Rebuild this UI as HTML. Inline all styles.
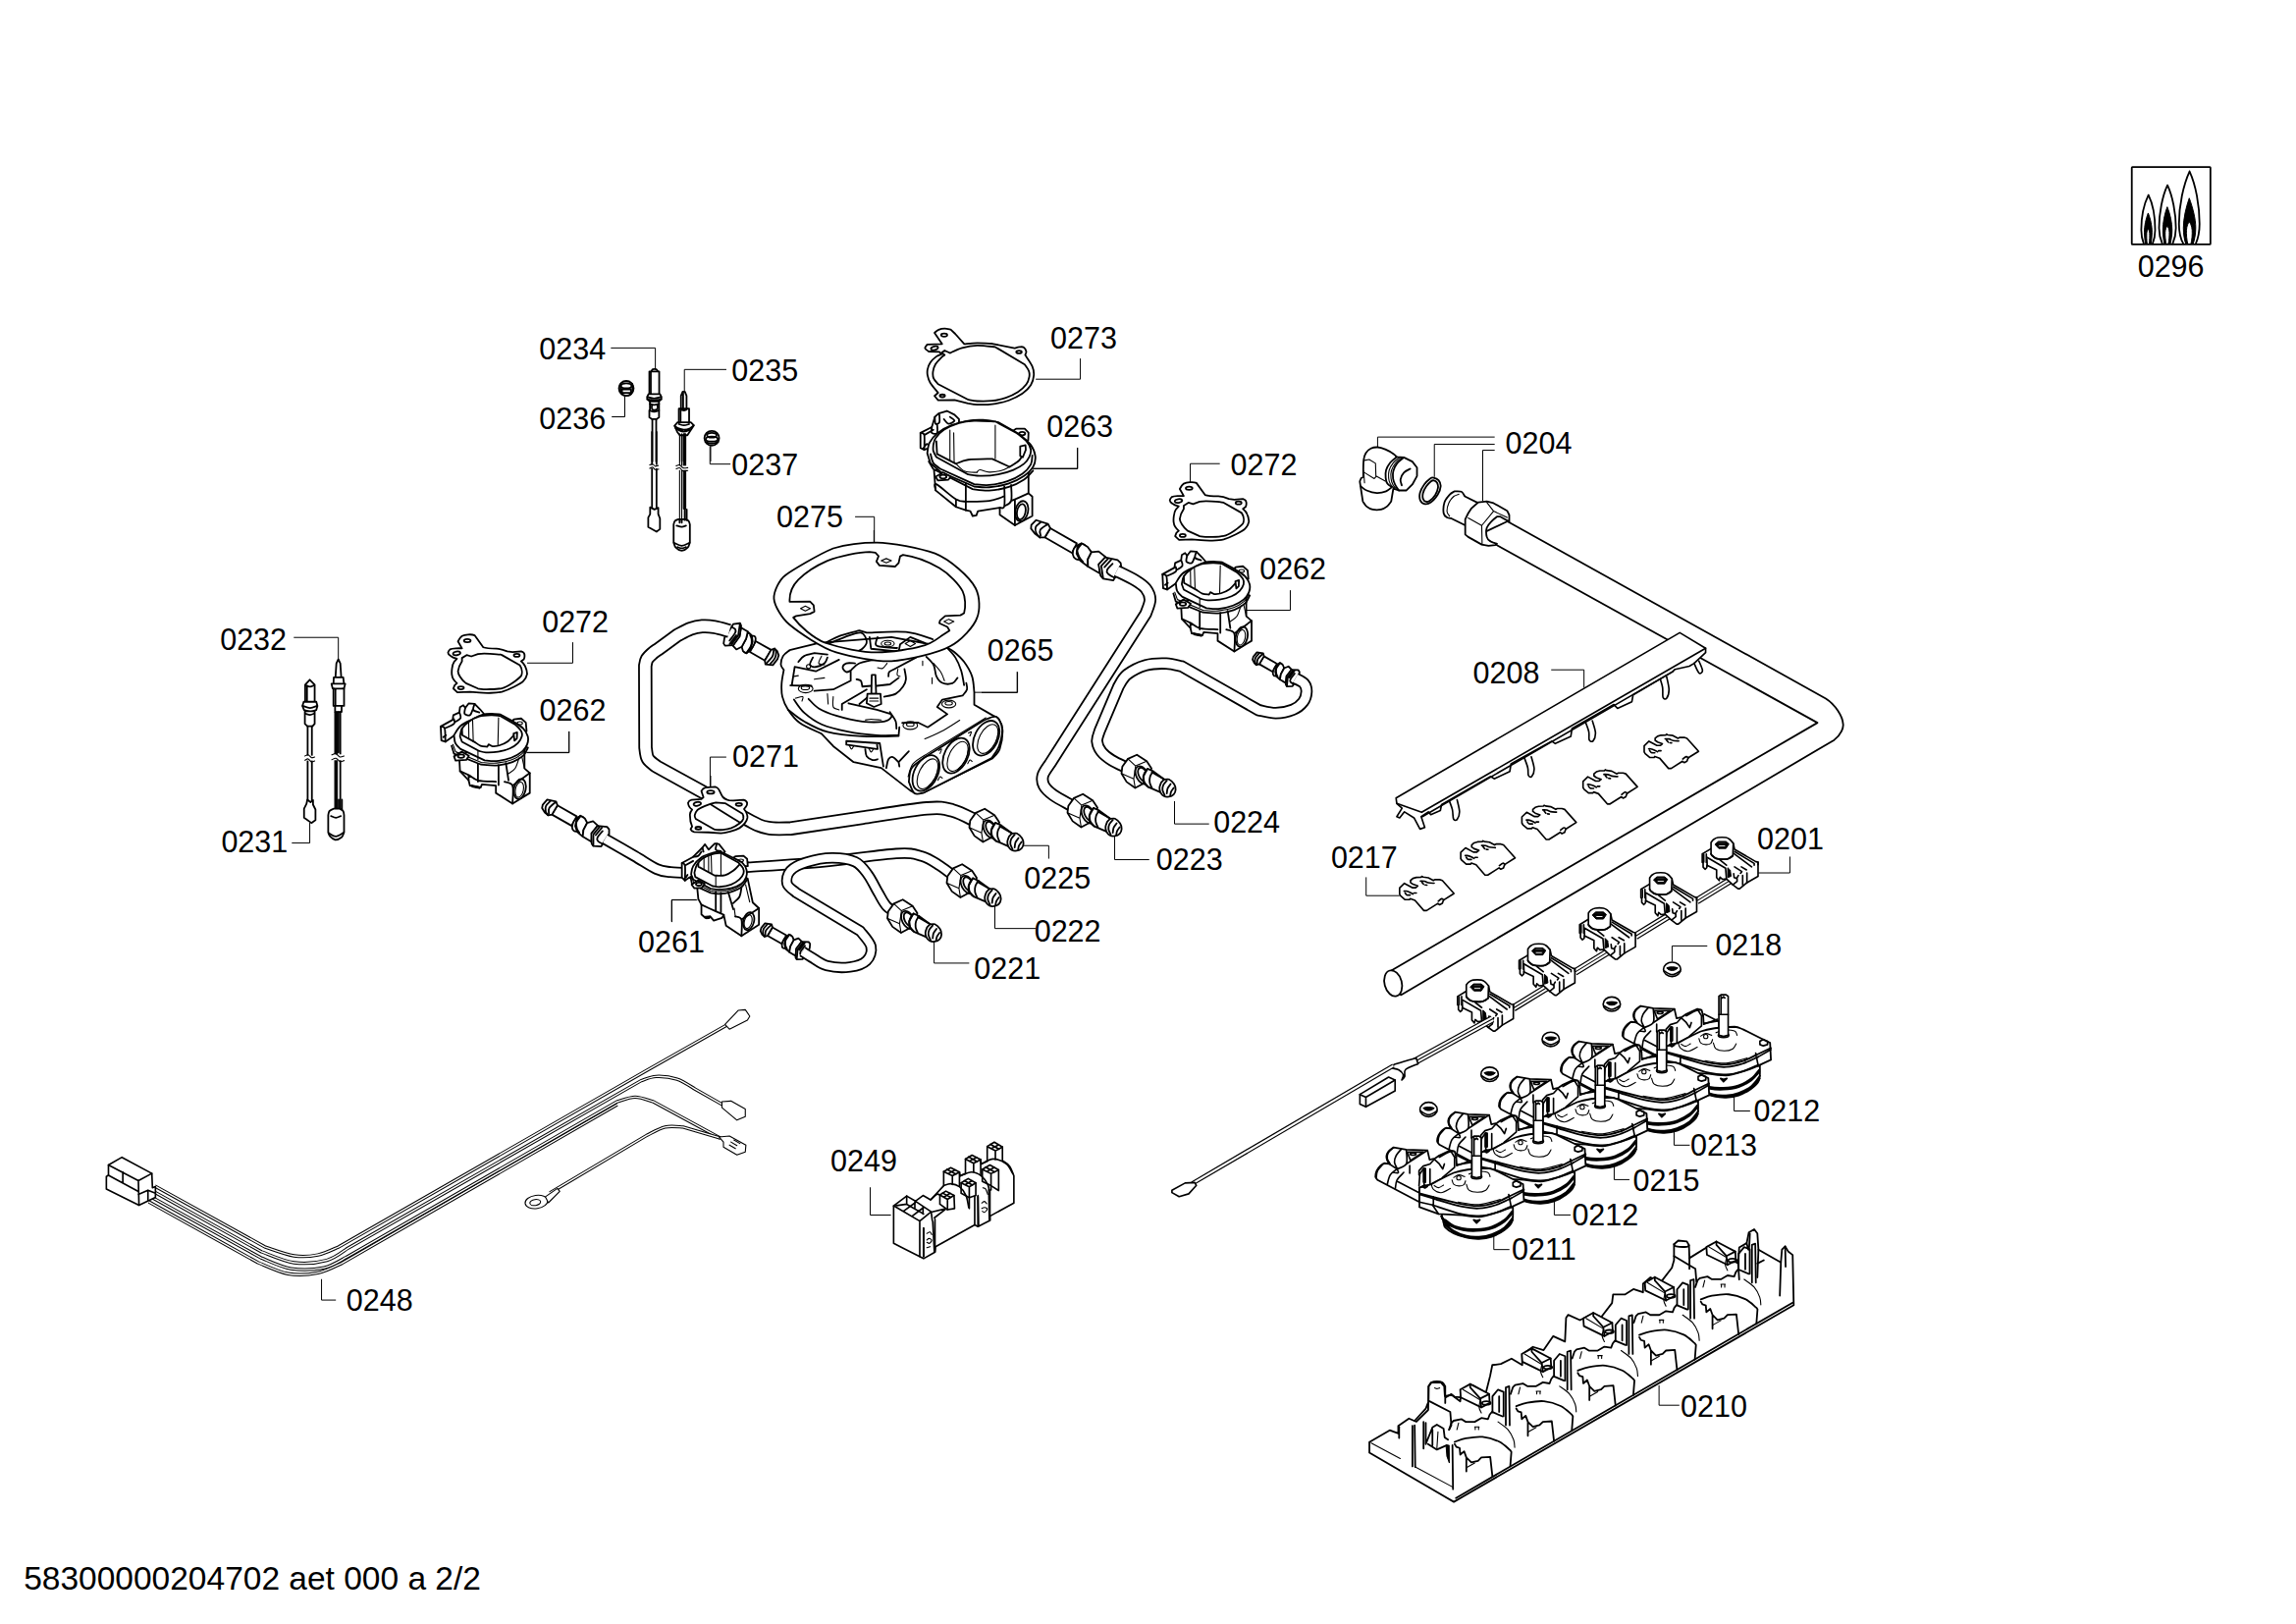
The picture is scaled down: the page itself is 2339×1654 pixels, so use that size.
<!DOCTYPE html>
<html><head><meta charset="utf-8"><title>58300000204702 aet 000 a 2/2</title>
<style>
html,body{margin:0;padding:0;background:#fff}
svg{display:block}
.p{fill:none;stroke:#000;stroke-width:1.8;vector-effect:non-scaling-stroke;stroke-linejoin:round;stroke-linecap:round}
.pw{fill:#fff;stroke:#000;stroke-width:1.8;vector-effect:non-scaling-stroke;stroke-linejoin:round;stroke-linecap:round}
.n{fill:none;stroke:#000;stroke-width:1.1;vector-effect:non-scaling-stroke;stroke-linejoin:round;stroke-linecap:round}
.nw{fill:#fff;stroke:#000;stroke-width:1.1;vector-effect:non-scaling-stroke;stroke-linejoin:round;stroke-linecap:round}
.m{fill:none;stroke:#000;stroke-width:1.65;vector-effect:non-scaling-stroke;stroke-linejoin:round;stroke-linecap:round}
.mw{fill:#fff;stroke:#000;stroke-width:1.65;vector-effect:non-scaling-stroke;stroke-linejoin:round;stroke-linecap:round}
.w{fill:#fff;stroke:none}
.pk{fill:#000;stroke:#000;stroke-width:1;vector-effect:non-scaling-stroke}
.l{fill:none;stroke:#000;stroke-width:1;vector-effect:non-scaling-stroke}
.tb{fill:none;stroke:#000;stroke-linecap:butt;stroke-linejoin:round;vector-effect:non-scaling-stroke}
.tw{fill:none;stroke:#fff;stroke-linecap:butt;stroke-linejoin:round;vector-effect:non-scaling-stroke}
text{font-family:"Liberation Sans",sans-serif;font-size:30.5px;fill:#000}
</style></head><body>
<svg width="2339" height="1654" viewBox="0 0 2339 1654">
<rect width="2339" height="1654" fill="#fff"/>
<defs>

<g id="fit" transform="scale(0.0871)">
<path class="pw" d="M-145,-55L-80,-145L25,-192L140,-118L195,-35L165,90L80,155L5,195L-95,125L-155,25Z"/>
<path class="n" d="M-80,-145L10,-62L-12,90L5,195M-150,30L-12,90M10,-62L140,-118"/>
<g transform="rotate(-27 85 45)"><ellipse class="p" cx="85" cy="45" rx="68" ry="112"/><ellipse class="p" cx="98" cy="45" rx="50" ry="88"/></g>
<path class="pw" d="M150,-30L215,0L345,95L300,245L160,185L110,130L100,60Z"/>
<path class="p" d="M150,-30C143.3,-20 118.3,8.3 110,30C101.7,51.7 96.7,78.3 100,100C103.3,121.7 120,145.8 130,160C140,174.2 155,180.8 160,185M215,0C209.2,10 186.7,38.3 180,60C173.3,81.7 171.7,107.5 175,130C178.3,152.5 195.8,184.2 200,195M200,10L345,95"/>
<path class="pw" d="M340,100C350,99.2 380,86.7 400,95C420,103.3 447,130 460,150C473,170 478.8,195 478,215C477.2,235 468,256.2 455,270C442,283.8 419.2,294.7 400,298C380.8,301.3 356.7,298.8 340,290C323.3,281.2 308.3,261.7 300,245C291.7,228.3 288.3,209.2 290,190C291.7,170.8 306.7,140 310,130Z"/>
<path class="p" d="M375,110C368.3,118.3 343.3,141.7 335,160C326.7,178.3 322.5,200 325,220C327.5,240 345.8,270 350,280M420,150C414.2,158.3 392.5,181.7 385,200C377.5,218.3 376.7,250 375,260M455,195C450,202.5 431.7,225 425,240C418.3,255 416.7,277.5 415,285"/>
</g>
</defs>
<defs>
<g id="g272" transform="scale(0.13547)">
<path class="pw" fill-rule="evenodd" d="M270,245C280,225 290,212 300,205C320,195 370,188 395,200L460,290C480,298 530,300 560,300C590,302 620,312 640,320L680,325L745,320C760,325 770,335 770,345C772,360 768,375 765,380L745,395C765,410 785,430 790,490C785,520 770,535 760,545C740,565 650,610 600,625C560,635 470,635 430,630L360,625L265,628L235,600L245,575L262,560C240,540 226,520 225,500C220,480 225,420 240,400L262,375C240,370 220,360 215,355C200,345 195,335 195,330C198,318 204,310 210,305C225,298 280,296 300,298Z
M300,395C290,410 272,450 270,470C270,490 295,535 330,560L420,600C450,610 570,605 600,598C640,590 720,535 745,505C755,485 752,450 735,425L600,348C570,338 450,334 420,340L370,358L335,348L300,370Z"/>
<ellipse class="p" cx="340" cy="240" rx="25" ry="12"/>
<ellipse class="p" cx="260" cy="335" rx="28" ry="14" transform="rotate(-10 260 335)"/>
<ellipse class="p" cx="712" cy="350" rx="22" ry="11"/>
<ellipse class="p" cx="292" cy="595" rx="22" ry="11"/>
</g>
<g id="c262" transform="scale(0.13547)">
<path class="pw" d="M140,885L230,835L235,800L280,780L285,740L310,725L325,745L350,712L395,715L435,755L465,790L400,900L245,950L175,1000L145,990Z"/>
<path class="p" d="M140,885C145,887.5 164.2,880.8 170,900C175.8,919.2 174.2,983.3 175,1000M170,900C181.7,894.2 228.3,876.7 240,865C251.7,853.3 240,835.8 240,830M280,780C281.7,786.7 295,808.3 290,820C285,831.7 256.7,845 250,850M325,745C324.2,752.5 314.2,780.8 320,790C325.8,799.2 350,805 360,800C370,795 376.7,766.7 380,760M395,715C393.3,722.5 379.2,749.2 385,760C390.8,770.8 422.5,776.7 430,780M160,965L180,950"/>
<path class="pw" d="M280,1120L285,1220L350,1290L360,1330L440,1345L450,1320L555,1330L555,1385L680,1465L810,1385L810,1235L770,1200L770,1000L500,960Z"/>
<path class="p" d="M420,1170L420,1300M575,1175L575,1325M630,1160L650,1290M620,1300C630,1305 670,1302.5 680,1330C690,1357.5 680,1442.5 680,1465M680,1330L810,1235M285,1220C295.8,1225 327.5,1238.3 350,1250C372.5,1261.7 385.8,1281.7 420,1290C454.2,1298.3 532.5,1298.3 555,1300M350,1250L350,1290"/>
<path class="n" d="M730,1120C725,1133.3 713.3,1180 700,1200C686.7,1220 658.3,1233.3 650,1240M750,1110L770,1200"/>
<path class="pk" d="M370,1325L440,1340L435,1352L375,1340Z"/>
<ellipse class="p" cx="735" cy="1355" rx="44" ry="76" transform="rotate(12 735 1355)"/>
<ellipse class="n" cx="732" cy="1360" rx="30" ry="58" transform="rotate(12 732 1360)"/>
<path class="pw" d="M670,850L690,832L745,825L780,855L786,920L720,920Z"/>
<ellipse class="n" cx="735" cy="860" rx="20" ry="11"/>
<path class="pw" d="M240,950C248.3,938.3 266.7,900 290,880C313.3,860 353.3,843.7 380,830C406.7,816.3 426.7,804.7 450,798C473.3,791.3 496.7,790.5 520,790C543.3,789.5 578.3,794.2 590,795L690,850C701.7,858.3 742.5,881.7 760,900C777.5,918.3 790,940 795,960C800,980 797.5,1000.8 790,1020C782.5,1039.2 770,1058.3 750,1075C730,1091.7 701.7,1108.3 670,1120C638.3,1131.7 593.3,1141.7 560,1145C526.7,1148.3 485,1140.8 470,1140L290,1055C283.3,1047.5 258.3,1027.5 250,1010C241.7,992.5 241.7,960 240,950Z"/>
<path class="p" d="M222,1030L240,1090L440,1170C460,1171.3 520,1181 560,1178C600,1175 646.7,1164.2 680,1152C713.3,1139.8 740.7,1122.8 760,1105C779.3,1087.2 790,1055 796,1045"/>
<path class="n" d="M232,1020L252,1075L445,1155C464.2,1155.8 521.7,1163.3 560,1160C598.3,1156.7 643,1146.7 675,1135C707,1123.3 732.8,1106.7 752,1090C771.2,1073.3 783.7,1044.2 790,1035"/>
<path class="pw" d="M240,1110L298,1075L352,1105L332,1136L252,1142Z"/>
<ellipse class="p" cx="293" cy="1108" rx="24" ry="13"/>
<path class="pw" d="M285,960C287.5,950 289.2,918.3 300,900C310.8,881.7 328.3,865 350,850C371.7,835 401.7,818.3 430,810C458.3,801.7 494.2,800.8 520,800C545.8,799.2 574.2,804.2 585,805L700,870C707.5,878.3 736.7,905 745,920C753.3,935 754.2,945 750,960C745.8,975 735,995 720,1010C705,1025 685,1039.2 660,1050C635,1060.8 600,1070 570,1075C540,1080 503.3,1080.8 480,1080C456.7,1079.2 438.3,1071.7 430,1070L300,1000L285,960Z"/>
<path class="p" d="M300,900L302,950L400,1005C406.7,1009.2 425,1024.5 440,1030C455,1035.5 481.7,1036.7 490,1038L500,1020L530,1035C538.3,1033.8 561.7,1033.8 580,1028C598.3,1022.2 620.8,1013.8 640,1000C659.2,986.2 685.8,954.2 695,945"/>
<path class="n" d="M350,850L352,980M380,835L385,1000M575,820L570,1030M420,1070L420,1135"/>
<path class="pw" d="M688,938L715,930L713,975L695,992Z"/>
</g>
</defs>
<defs>

<g id="fitL" transform="scale(0.0697)">
<path class="pw" d="M-620,-450L-340,-290L-410,-150L-700,-315Z"/>
<path class="pw" d="M-770,-535L-640,-505L-620,-450L-700,-315L-755,-305L-805,-345L-845,-410L-835,-460Z"/>
<path class="p" d="M-720,-515C-731.3,-502.5 -776,-465.8 -788,-440C-800,-414.2 -797,-382.5 -792,-360C-787,-337.5 -763.7,-314.2 -758,-305M-650,-495C-665,-480.8 -724.2,-437.5 -740,-410C-755.8,-382.5 -744.2,-343.3 -745,-330"/>
<ellipse class="pw" cx="-315" cy="-180" rx="75" ry="122" transform="rotate(32 -315 -180)"/>
<path class="pw" d="M-285,-300L-220,-260L-185,-195L-240,-90L-250,5L-330,-60L-360,-150L-340,-240Z"/>
<path class="p" d="M-285,-290C-295,-275 -336.7,-230 -345,-200C-353.3,-170 -342.5,-135 -335,-110C-327.5,-85 -305.8,-60 -300,-50"/>
<path class="pw" d="M-185,-195L-100,-218L-30,-155L-115,-40L-125,80L-250,5L-240,-90Z"/>
<path class="pw" d="M-125,-40L-35,-150L105,-135L135,-100L135,-25L40,115L20,150L-95,145L-120,110Z"/>
<path class="p" d="M-95,-25L-5,-135M-95,-25L-95,140M-60,-15L30,-125M40,-75C27.5,-59.2 -23.3,-4.2 -35,20C-46.7,44.2 -42.5,54.2 -30,70C-17.5,85.8 28.3,107.5 40,115"/>
</g>
</defs>
<defs>
<g id="clip" transform="scale(0.03484)">
<path class="mw" d="M0,-100L140,-235L370,-110L470,-110L530,-160L390,-210L320,-260L320,-320L390,-380L490,-410L630,-415L650,-440L690,-420L840,-400L990,-320L1030,-345L1170,-345L1250,-320L1590,60L1290,250L1270,290L1250,350L1170,390L1120,350L790,560L710,560L450,260L310,210L290,240L160,240L30,130L0,80Z"/>
<path class="m" d="M130,-10C140,-10 160,-16.7 190,-10C220,-3.3 276.7,15.8 310,30C343.3,44.2 376.7,67.5 390,75M160,40C168.3,50 185,89.2 210,100C235,110.8 293.3,104.2 310,105M420,45L490,45M610,-305C630,-304.2 691.7,-308.3 730,-300C768.3,-291.7 793.3,-265 840,-255C886.7,-245 981.7,-242.5 1010,-240M650,-270L700,-210M750,-190L800,-185M1130,285C1146.7,273.3 1203.3,220.8 1230,215C1256.7,209.2 1280,244.2 1290,250"/>
</g>
<g id="sw" transform="scale(0.04355)">
<path class="mw" d="M-270,110L-465,230L-465,425L-445,435L-445,535L-400,585L-360,550L-355,490L-130,600L-130,780L-70,850L-50,770L10,820L100,810L250,950L370,1040L410,1040L580,900L840,750L840,420L790,410L290,120L260,-20Z"/>
<path class="m" d="M-370,230L-370,430M-430,240L-430,420M-350,310L80,560L100,800M-350,490L-355,350M-50,370L100,490M290,170L750,450L750,490M260,210L690,530M290,530L460,640L430,680M450,530L570,600M580,670L580,900M480,730L480,950M270,690L280,780L340,800L380,730M350,800L350,870L250,950M840,420L840,480"/>
<path class="pk" d="M130,550L190,610L210,750L130,780Z"/>
<path class="mw" d="M-260,-40C-250,-51.7 -226.7,-90.8 -200,-110C-173.3,-129.2 -148.3,-147.5 -100,-155C-51.7,-162.5 43.3,-162.5 90,-155C136.7,-147.5 151.7,-132.5 180,-110C208.3,-87.5 246.7,-35 260,-20L250,270C238.3,278.3 205,306.7 180,320C155,333.3 138.3,345 100,350C61.7,355 -8.3,353.3 -50,350C-91.7,346.7 -120,343.3 -150,330C-180,316.7 -211.7,286.7 -230,270C-248.3,253.3 -255,236.7 -260,230L-260,-40Z"/>
<path class="n" d="M-260,230C-255,236.7 -248.3,253.3 -230,270C-211.7,286.7 -180,316.7 -150,330C-120,343.3 -91.7,346.7 -50,350C-8.3,353.3 61.7,355 100,350C138.3,345 155,333.3 180,320C205,306.7 238.3,278.3 250,270" style="stroke-width:1.8"/>
<path class="pk" fill-rule="evenodd" d="M-170,5L-90,-65L90,-65L160,-5L90,100L-80,100ZM-85,-50H80V-25H-85ZM-85,20H80V65H-85Z"/>
</g>
</defs>
<defs>
<g id="valve" transform="scale(0.0862)">
<path class="pw" d="M-1170,520C-1174.2,513.3 -1193.3,498.3 -1195,480C-1196.7,461.7 -1189.2,430.8 -1180,410C-1170.8,389.2 -1155,369.7 -1140,355C-1125,340.3 -1098.3,327.5 -1090,322L-1030,330L-1055,290C-1056.7,281.7 -1067.5,258.3 -1065,240C-1062.5,221.7 -1054.2,197.5 -1040,180C-1025.8,162.5 -990,142.5 -980,135L-830,160L-580,170L-555,280L-490,265L-440,230L-310,170L-260,180L-240,250L-235,340L-55,310L-55,390L-390,490L-535,570L-675,610L-675,780Z"/>
<path class="m" d="M-1100,325C-1111.7,339.2 -1155.8,382.5 -1170,410C-1184.2,437.5 -1182.5,476.7 -1185,490M-940,390C-953.3,401.7 -1000.8,430 -1020,460C-1039.2,490 -1049.2,551.7 -1055,570M-860,430C-873.3,445 -923.3,488.3 -940,520C-956.7,551.7 -956.7,603.3 -960,620M-1030,330L-940,390M-985,430C-975,430.8 -932.5,441.7 -925,435C-917.5,428.3 -937.5,397.5 -940,390M-980,135C-990.8,145.8 -1032.5,177.5 -1045,200C-1057.5,222.5 -1059.2,248.3 -1055,270C-1050.8,291.7 -1025.8,320 -1020,330M-890,155C-900,167.5 -936.7,204.2 -950,230C-963.3,255.8 -971.7,285 -970,310C-968.3,335 -945,368.3 -940,380M-830,170C-830,196.7 -811.7,293.3 -830,330C-848.3,366.7 -921.7,380 -940,390M-790,350L-790,440M-930,540L-680,670M-440,250C-421.7,240 -358.3,201.7 -330,190C-301.7,178.3 -280,181.7 -270,180M-235,350L-70,290M-230,230L-70,310"/>
<path class="m" d="M-820,190L-630,190L-780,290L-820,190M-580,170L-830,330M-680,460L-680,410L-630,355L-550,330L-500,275L-440,330L-400,390L-380,330M-620,590L-620,380M-550,570L-550,390M-310,170L-260,250L-240,250M-260,250L-260,370L-400,490M-680,590L-670,450L-630,390"/>
<ellipse class="m" cx="-750" cy="212" rx="35" ry="14"/>
<path class="pk" d="M-630,380h30v170h-30z"/>
<path class="pw" d="M-420,890C-415,911.7 -398.3,988.3 -390,1020C-381.7,1051.7 -390,1058.3 -370,1080C-350,1101.7 -311.7,1130 -270,1150C-228.3,1170 -170,1189.2 -120,1200C-70,1210.8 -20,1216.7 30,1215C80,1213.3 130,1207.5 180,1190C230,1172.5 290,1140 330,1110C370,1080 403.3,1055 420,1010C436.7,965 428.3,868.3 430,840Z"/>
<path class="p" d="M-420,950C-403.3,965 -361.7,1016.7 -320,1040C-278.3,1063.3 -223.3,1080 -170,1090C-116.7,1100 -58.3,1103.3 0,1100C58.3,1096.7 125,1088.3 180,1070C235,1051.7 290,1020 330,990C370,960 405,906.7 420,890M-390,1020C-370,1036.7 -315,1093.3 -270,1120C-225,1146.7 -170,1168.3 -120,1180C-70,1191.7 -20,1193.3 30,1190C80,1186.7 130,1178.3 180,1160C230,1141.7 288.3,1113.3 330,1080C371.7,1046.7 413.3,980 430,960M-370,990C-353.3,1001.7 -311.7,1040 -270,1060C-228.3,1080 -165,1100 -120,1110C-75,1120 -50,1123.3 0,1120C50,1116.7 125,1108.3 180,1090C235,1071.7 291.7,1036.7 330,1010C368.3,983.3 396.7,943.3 410,930M-410,975C-393.3,989.5 -351.7,1039.2 -310,1062C-268.3,1084.8 -211.7,1102 -160,1112C-108.3,1122 -56.7,1125.3 0,1122C56.7,1118.7 125,1110.3 180,1092C235,1073.7 289.7,1041.5 330,1012C370.3,982.5 406.7,931.2 422,915M-375,1050C-355.8,1065.3 -303.3,1117.7 -260,1142C-216.7,1166.3 -163.3,1185.3 -115,1196C-66.7,1206.7 -19.2,1209 30,1206C79.2,1203 130,1196 180,1178C230,1160 288.7,1129.3 330,1098C371.3,1066.7 411.7,1008 428,990"/>
<path class="m" d="M-35,990L0,1002L40,990L0,1030L-35,990"/>
<path class="pw" d="M-675,610L-535,570C-480,540 -330,460 -270,435C-200,410 -20,385 130,380C180,385 200,400 230,410L430,510L550,570L560,770L410,840C350,870 100,955 30,955C-30,955 -120,945 -170,935L-450,920L-675,840Z"/>
<path class="m" d="M-675,675L-510,720M-675,690L-510,740M-675,780L-520,815M-510,720L-510,815M380,715L560,630M410,735L560,650M380,690L410,840M-520,815L-450,920"/>
<path class="n" d="M-535,570C-530.8,580 -529.2,613.3 -510,630C-490.8,646.7 -453.3,671.7 -420,670C-386.7,668.3 -328.3,628.3 -310,620M-500,585C-491.7,589.2 -468.3,610.8 -450,610C-431.7,609.2 -400,585 -390,580M-290,520C-286.7,528.3 -283.3,558.3 -270,570C-256.7,581.7 -230,589.2 -210,590C-190,590.8 -163.3,585 -150,575C-136.7,565 -133.3,537.5 -130,530M-120,570C-115,581.7 -111.7,624.2 -90,640C-68.3,655.8 -23.3,665 10,665C43.3,665 86.7,654.2 110,640C133.3,625.8 143.3,590 150,580M-270,490C-260,485 -231.7,461.7 -210,460C-188.3,458.3 -151.7,476.7 -140,480M-90,450C-75,445 -36.7,423.3 0,420C36.7,416.7 103.3,420 130,430C156.7,440 155,471.7 160,480M-220,780C-178.3,785 -53.3,815 30,810C113.3,805 238.3,760 280,750"/>
<path class="p" d="M-510,720C-453.3,734.2 -260,787.5 -170,805C-80,822.5 -36.7,828.3 30,825C96.7,821.7 171.7,803.3 230,785C288.3,766.7 355,726.7 380,715M-510,740C-453.3,755.8 -260,815.8 -170,835C-80,854.2 -36.7,858.3 30,855C96.7,851.7 166.7,835 230,815C293.3,795 380,748.3 410,735M-520,815C-461.7,833.3 -261.7,903.3 -170,925C-78.3,946.7 -36.7,948.3 30,945C96.7,941.7 166.7,924.2 230,905C293.3,885.8 380,842.5 410,830"/>
<circle class="n" cx="-210" cy="495" r="25"/>
<path class="m" d="M430,550L470,530L520,550L520,590L470,605L430,590L430,550"/>
<path class="m" d="M-645,595L-610,580L-580,595L-610,615L-645,595"/>
<ellipse class="mw" cx="0" cy="480" rx="62" ry="26"/>
<path class="mw" d="M-55,20L-30,2L30,2L55,20L55,480L0,495L-55,480Z"/>
<path class="m" d="M-55,235L55,235M-30,20L-30,230M-15,40L0,25L15,40"/>
</g>
</defs>
<g transform="translate(900,310) scale(0.153925)">
<path class="pw" d="M338,188C342.5,184.7 353.8,172.7 365,168C376.2,163.3 391.7,160.3 405,160C418.3,159.7 438.3,165 445,166L475,195L535,262C549.2,261 589.2,256.3 620,256C650.8,255.7 703.3,259.3 720,260L868,290C873.3,288.7 890,283 900,282C910,281 920.5,279 928,284C935.5,289 943.3,303.5 945,312C946.7,320.5 939.2,331.2 938,335C945.8,347.5 975.5,387.5 985,410C994.5,432.5 996.7,449.2 995,470C993.3,490.8 987.5,515 975,535C962.5,555 944.2,573.3 920,590C895.8,606.7 863.3,623.3 830,635C796.7,646.7 755,655.3 720,660C685,664.7 646.7,663.8 620,663C593.3,662.2 570,656.3 560,655L470,632L362,634L338,606L362,585C353.3,574.2 321.7,539.2 310,520C298.3,500.8 295,485 292,470C289,455 289,444.2 292,430C295,415.8 300.3,399.2 310,385C319.7,370.8 337.5,354.2 350,345C362.5,335.8 379.2,332.5 385,330L370,314L300,312C295.8,308.3 276.7,297.8 275,290C273.3,282.2 287.5,269.2 290,265L388,262L338,188Z"/>
<path class="p" d="M440,322C453.3,316.3 490,296.3 520,288C550,279.7 583.3,273 620,272C656.7,271 720,280.3 740,282L935,398C939.5,405 957,426.3 962,440C967,453.7 967.8,465 965,480C962.2,495 957.5,513.3 945,530C932.5,546.7 912.5,565.3 890,580C867.5,594.7 838.3,608.3 810,618C781.7,627.7 751.7,634.3 720,638C688.3,641.7 646.7,641.3 620,640C593.3,638.7 570,631.7 560,630L362,528C357,521.7 337.7,503.8 332,490C326.3,476.2 325.8,460.8 328,445C330.2,429.2 335.5,410.8 345,395C354.5,379.2 375,360 385,350C395,340 401.7,337.5 405,335L385,320L405,305L440,322Z"/>
<ellipse class="p" cx="402" cy="203" rx="20" ry="10"/>
<ellipse class="p" cx="338" cy="290" rx="24" ry="12" transform="rotate(-15 338 290)"/>
<ellipse class="p" cx="897" cy="315" rx="18" ry="9"/>
<ellipse class="p" cx="390" cy="605" rx="17" ry="9"/>


<path class="pw" d="M245,850L320,812L340,745L365,722L420,705L470,730L500,760L500,790L400,840L300,950L270,962L245,950Z"/>
<path class="p" d="M245,850C249.2,852.5 265.8,846.3 270,865C274.2,883.7 270,945.8 270,962M270,865L330,830M320,812C320,818.3 314.2,843.7 320,850C325.8,856.3 349.2,860 355,850C360.8,840 355,800 355,790M340,745C340.8,752.5 340,784.2 345,790C350,795.8 365.8,790 370,780C374.2,770 370,738.3 370,730M400,760C405,765 418.3,788.3 430,790C441.7,791.7 468.3,777.5 470,770C471.7,762.5 445,749.2 440,745M265,950C268.3,945.8 279.2,928.3 285,925C290.8,921.7 297.5,929.2 300,930"/>

<path class="pw" d="M335,1100L345,1230L480,1340L545,1362L575,1368L590,1400L615,1396L625,1368L770,1345L770,1392L870,1462L985,1400L985,1272L960,1250L960,1050L600,1000Z"/>
<path class="p" d="M545,1115L545,1362M800,1205C800,1226.7 805,1311.7 800,1335C795,1358.3 775,1343.3 770,1345M845,1195C845,1212.5 852.5,1276.7 845,1300C837.5,1323.3 807.5,1329.2 800,1335M845,1300C849.2,1298.3 850.8,1298.3 870,1290C889.2,1281.7 945,1256.7 960,1250M870,1290L870,1462M345,1230C345.8,1223.3 327.5,1180 350,1190C372.5,1200 447.5,1270.8 480,1290C512.5,1309.2 534.2,1302.5 545,1305M480,1290L480,1340M545,1305C570.8,1304.2 657.5,1305.8 700,1300C742.5,1294.2 783.3,1275 800,1270"/>
<ellipse class="p" cx="915" cy="1368" rx="42" ry="68" transform="rotate(12 915 1368)"/>
<ellipse class="p" cx="912" cy="1372" rx="28" ry="52" transform="rotate(12 912 1372)"/>

<path class="pw" d="M860,835L880,822L935,822L960,848L958,900L900,900Z"/>
<ellipse class="p" cx="918" cy="855" rx="20" ry="11"/>

<path class="pw" d="M290,985C292.5,973.3 293.3,937.5 305,915C316.7,892.5 335.8,869.2 360,850C384.2,830.8 416.7,813.3 450,800C483.3,786.7 525,775.8 560,770C595,764.2 626.7,763.3 660,765C693.3,766.7 743.3,777.5 760,780L900,860C912.5,871.7 957.5,905.8 975,930C992.5,954.2 1002.5,980.8 1005,1005C1007.5,1029.2 1002.5,1053.3 990,1075C977.5,1096.7 956.7,1116.7 930,1135C903.3,1153.3 868.3,1172.5 830,1185C791.7,1197.5 738.3,1206.7 700,1210C661.7,1213.3 616.7,1205.8 600,1205L380,1110L310,1050Z"/>
<path class="p" d="M300,1040L330,1090L590,1222C608.3,1223.7 660,1234.3 700,1232C740,1229.7 791.7,1220 830,1208C868.3,1196 903.3,1178 930,1160C956.7,1142 980,1110 990,1100"/>
<path class="p" d="M312,990C315,1000 318.7,1033.3 330,1050C341.3,1066.7 371.7,1083.3 380,1090L600,1190C616.7,1190.8 663.3,1198.3 700,1195C736.7,1191.7 783.3,1182.5 820,1170C856.7,1157.5 894.2,1138.3 920,1120C945.8,1101.7 964.2,1080 975,1060C985.8,1040 983.3,1010 985,1000"/>

<path class="pw" d="M345,1140L395,1112L445,1140L430,1160L360,1165Z"/>
<ellipse class="p" cx="395" cy="1140" rx="22" ry="12"/>

<path class="pw" d="M330,930C332.5,922.5 333.3,901.7 345,885C356.7,868.3 374.2,846.7 400,830C425.8,813.3 466.7,795 500,785C533.3,775 560,771.7 600,770C640,768.3 716.7,774.2 740,775L880,850C891.7,860 934.2,891.7 950,910C965.8,928.3 972.5,943.3 975,960C977.5,976.7 972.5,994.2 965,1010C957.5,1025.8 947.5,1040.8 930,1055C912.5,1069.2 888.3,1083.3 860,1095C831.7,1106.7 795,1118.3 760,1125C725,1131.7 683.3,1135 650,1135C616.7,1135 575,1126.7 560,1125L350,1010C346.7,1003.3 333.3,983.3 330,970C326.7,956.7 330,936.7 330,930Z"/>
<path class="p" d="M350,905L355,990L480,1055C493.3,1050.5 520,1033.5 560,1028C600,1022.5 693.3,1023 720,1022L835,1075C845.8,1067.5 883.3,1048.3 900,1030C916.7,1011.7 929.2,975.8 935,965"/>
<path class="n" d="M480,1055C490,1063.3 516.7,1095.5 540,1105C563.3,1114.5 606.7,1110.8 620,1112L620,1108C623.3,1105.8 626.7,1094.7 640,1095C653.3,1095.3 676.7,1109.2 700,1110C723.3,1110.8 757.5,1105.8 780,1100C802.5,1094.2 825.8,1079.2 835,1075"/>
<path class="n" d="M440,832L440,1032M465,850L468,1045M740,800L740,1022"/>
<path class="pw" d="M905,940L940,932L942,962L922,1012L905,1002Z"/>

<path class="l" d="M1008,495H1303V358"/>
<path class="l" d="M990,1088H1285V948"/>
</g>
<g transform="translate(540,330) scale(0.087108)">
<path class="p" d="M1418,555C1420.8,550.8 1425.5,534.2 1435,530C1444.5,525.8 1465,525.8 1475,530C1485,534.2 1491.7,550.8 1495,555"/>
<path class="pw" d="M1395,555L1510,555L1510,830L1395,830Z"/>
<path class="p" d="M1412,560L1412,825"/>
<path class="pw" d="M1385,820L1370,850L1370,880L1400,905L1505,905L1535,880L1535,850L1520,820Z"/>
<path class="p" d="M1372,852C1385,855 1423.2,870 1450,870C1476.8,870 1519.2,855 1533,852M1372,880C1385,882.5 1423.2,895 1450,895C1476.8,895 1519.2,882.5 1533,880"/>
<path class="pw" d="M1402,905L1508,905L1508,1090L1480,1112L1425,1112L1395,1090L1395,1010L1402,1000Z"/>
<path class="p" d="M1402,935C1410,936.7 1432.3,945 1450,945C1467.7,945 1498.3,936.7 1508,935M1425,945C1425,952.5 1420.8,980 1425,990C1429.2,1000 1439.2,1005 1450,1005C1460.8,1005 1483.3,1000 1490,990C1496.7,980 1490,952.5 1490,945M1398,1010C1406.7,1012.5 1431.7,1025 1450,1025C1468.3,1025 1498.3,1012.5 1508,1010"/>
<path class="p" d="M1430,1112L1430,1607M1475,1112L1475,1607"/>

<path class="pw" d="M1785,790L1810,790L1830,840L1830,1000L1765,1000L1765,840Z"/>
<path class="p" d="M1790,800L1790,995"/>
<path class="pw" d="M1740,990L1860,990L1860,1170L1740,1170Z"/>
<path class="p" d="M1765,1000C1770.8,1001.7 1789.2,1010 1800,1010C1810.8,1010 1825,1001.7 1830,1000M1760,1000L1760,1165"/>
<path class="pw" d="M1690,1190L1725,1150L1880,1150L1915,1185L1870,1255L1840,1300L1750,1300L1720,1260Z"/>
<path class="p" d="M1692,1192C1700,1197 1722,1214.8 1740,1222C1758,1229.2 1778.3,1235.3 1800,1235C1821.7,1234.7 1851.2,1228 1870,1220C1888.8,1212 1905.8,1192.5 1913,1187M1700,1215C1707.5,1220 1728.3,1237.8 1745,1245C1761.7,1252.2 1780,1258.8 1800,1258C1820,1257.2 1854.2,1243 1865,1240M1740,1170C1750,1172.5 1780,1185 1800,1185C1820,1185 1850,1172.5 1860,1170"/>
<path class="n" d="M1752,1300L1752,1607M1775,1300L1775,1607"/>
<path class="pk" d="M1794,1300H1820V1607H1794Z"/>

<circle class="pw" cx="1125" cy="752" r="86"/>
<ellipse class="p" cx="1125" cy="722" rx="62" ry="30"/>
<path class="p" d="M1075,765L1180,765L1180,805L1075,805Z"/>
<path class="p" d="M1060,700C1060,715 1055,768.3 1060,790C1065,811.7 1072.5,823.3 1090,830C1107.5,836.7 1147.5,836.7 1165,830C1182.5,823.3 1190,811.7 1195,790C1200,768.3 1195,715 1195,700"/>

<circle class="pw" cx="2125" cy="1335" r="86"/>
<ellipse class="p" cx="2125" cy="1300" rx="55" ry="28"/>
<ellipse class="p" cx="2125" cy="1345" rx="70" ry="30"/>
<path class="p" d="M2050,1380C2062.5,1383.3 2100,1400 2125,1400C2150,1400 2187.5,1383.3 2200,1380"/>

<path class="l" d="M945,280H1465V530"/>
<path class="l" d="M1108,845V1085H955"/>
<path class="l" d="M2296,532H1805V790"/>
<path class="l" d="M2112,1425V1607"/>
</g>
<g transform="translate(590,440) scale(0.087108)">
<path class="p" d="M852,0L852,880M905,0L905,880"/>
<path class="w" d="M820,385H940V425H820Z"/>
<path class="n" d="M825,385C830.8,383.3 849.2,372.5 860,375C870.8,377.5 879.2,397.2 890,400C900.8,402.8 919.2,393.3 925,392M825,425C830.8,422.8 849.2,409.5 860,412C870.8,414.5 878.3,436.2 890,440C901.7,443.8 923.3,435.8 930,435"/>
<path class="pw" d="M830,880L830,960L808,1000L808,1110L905,1165L945,1135L945,1010L925,960L925,885L880,905Z"/>

<path class="n" d="M1175,20L1175,1040M1200,20L1200,1060"/>
<path class="pk" d="M1219,20H1247V900H1219Z"/>
<path class="w" d="M1130,395H1280V445H1130Z"/>
<path class="n" d="M1135,395C1141.7,393.3 1161.7,380.8 1175,385C1188.3,389.2 1199.2,414.5 1215,420C1230.8,425.5 1260.8,418.3 1270,418M1135,430C1141.7,428.3 1161.7,415.8 1175,420C1188.3,424.2 1199.2,450 1215,455C1230.8,460 1260.8,450.8 1270,450"/>
<path class="pw" d="M1105,1080C1107.5,1073.3 1110.8,1050 1120,1040C1129.2,1030 1153.3,1023.3 1160,1020L1240,1020C1246.7,1023.3 1270.8,1030 1280,1040C1289.2,1050 1292.5,1073.3 1295,1080L1295,1290C1290.8,1300 1285.8,1333.7 1270,1350C1254.2,1366.3 1223.3,1388 1200,1388C1176.7,1388 1145.8,1366.3 1130,1350C1114.2,1333.7 1109.2,1300 1105,1290Z"/>
<path class="p" d="M1175,1020L1175,1060M1200,1020L1200,1060M1235,900L1235,1030M1258,905L1258,1030"/>
<path class="p" d="M1140,1095C1150,1097.5 1181.7,1110 1200,1110C1218.3,1110 1241.7,1097.5 1250,1095M1108,1295C1123.3,1300.8 1169.3,1330 1200,1330C1230.7,1330 1276.7,1300.8 1292,1295M1150,1345C1158.3,1347.5 1183.3,1360 1200,1360C1216.7,1360 1241.7,1347.5 1250,1345"/>
<path class="l" d="M1530,165V375H1770"/>
</g>
<g transform="translate(760,640) scale(0.148084)">
<path class="pw" d="M300,150C292.5,156.7 265,173.3 255,190C245,206.7 239.2,234.2 240,250C240.8,265.8 256.7,279.2 260,285C257.5,300.8 246.7,349.2 245,380C243.3,410.8 242.5,440 250,470C257.5,500 270,530 290,560C310,590 331.7,622.5 370,650C408.3,677.5 495,712.5 520,725L600,810L740,920L930,960L1130,1115C1136.7,1118.3 1154.2,1132.8 1170,1135C1185.8,1137.2 1215.8,1129.2 1225,1128L1695,895C1703.3,884.2 1733.3,862.5 1745,830C1756.7,797.5 1765.8,734.2 1765,700C1764.2,665.8 1750.8,641.7 1740,625C1729.2,608.3 1706.7,604.2 1700,600L1570,525L1570,440C1567.5,421.7 1566.7,365 1555,330C1543.3,295 1520.8,258.3 1500,230C1479.2,201.7 1450,176.7 1430,160C1410,143.3 1388.3,135 1380,130L1000,60L500,100Z"/>

<path class="p" d="M545,100C562.5,91.7 610.8,64.2 650,50C689.2,35.8 758.3,20.8 780,15L830,30C875,29.2 1024.2,17.5 1100,25C1175.8,32.5 1254.2,66.7 1285,75"/>
<path class="p" d="M560,110C580,101.7 641.7,73.3 680,60C718.3,46.7 765,25 790,30C815,35 828.3,71.7 830,90C831.7,108.3 815,126.7 800,140C785,153.3 750,165 740,170M850,60L860,140L1050,160L1060,110L1130,60L1230,100M905,60C904.2,70 877.5,107.5 900,120C922.5,132.5 1016.7,132.5 1040,135"/>
<ellipse class="n" cx="975" cy="105" rx="45" ry="22"/><ellipse class="n" cx="975" cy="105" rx="22" ry="10"/>
<path class="n" d="M1095,105L1130,85L1165,105L1130,125Z"/>

<path class="p" d="M335,265L315,390M305,392L450,395M335,265L480,295L640,215M360,230C366.7,223.3 381.7,200 400,190C418.3,180 458.3,173.3 470,170L560,180M460,200C456.7,208.3 436.7,239.2 440,250C443.3,260.8 463.3,266.7 480,265C496.7,263.3 526.7,250.8 540,240C553.3,229.2 556.7,206.7 560,200"/>
<circle class="n" cx="430" cy="262" r="14"/>
<path class="n" d="M520,190C516.7,198.3 496.7,230 500,240C503.3,250 533.3,248.3 540,250M330,330L360,325M470,350L540,340"/>
<ellipse class="n" cx="410" cy="415" rx="50" ry="28"/><ellipse class="n" cx="408" cy="408" rx="28" ry="14"/>
<path class="p" d="M470,430L600,420L720,360L720,290C730,281.7 750,252.5 780,240C810,227.5 855,219.2 900,215C945,210.8 1006.7,218.3 1050,215C1093.3,211.7 1141.7,198.3 1160,195M720,290C715,291.7 699.2,303.3 690,300C680.8,296.7 665,280 665,270C665,260 675.8,245 690,240C704.2,235 740,240 750,240"/>
<path class="p" d="M330,490C341.7,505 368.3,551.7 400,580C431.7,608.3 470,638.3 520,660C570,681.7 636.7,697.5 700,710C763.3,722.5 841.7,730.8 900,735C958.3,739.2 1025,735 1050,735M1050,735L1055,680M430,485C441.7,495.8 468.3,530.8 500,550C531.7,569.2 570,585 620,600C670,615 745,633.3 800,640C855,646.7 916.7,645 950,640C983.3,635 993.3,620.8 1000,610C1006.7,599.2 991.7,580.8 990,575"/>
<path class="p" d="M290,560C308.3,573.3 355,614.7 400,640C445,665.3 493.3,695 560,712C626.7,729 718.3,737.3 800,742C881.7,746.7 1008.3,740.3 1050,740"/>
<path class="n" d="M340,480C348.3,478.3 382.5,466.7 390,470C397.5,473.3 385.8,495 385,500M560,450L565,520M600,470C600,481.7 593.3,525 600,540C606.7,555 633.3,556.7 640,560M820,630C826.7,629.2 841.7,625 860,625C878.3,625 918.3,629.2 930,630"/>
<path class="p" d="M660,560L660,520L830,420M705,515L900,560L1000,590C1005,598.3 1024.2,623.3 1030,640C1035.8,656.7 1034.2,681.7 1035,690M780,520L840,470"/>

<path class="pw" d="M865,320L890,320L895,450L862,450Z"/>
<path class="pw" d="M835,450L925,450L930,520L880,540L830,515Z"/>
<path class="n" d="M850,480L910,480M850,500L910,500"/>
<path class="p" d="M760,350C765,351.7 783.3,351.7 790,360C796.7,368.3 798.3,393.3 800,400L860,395M900,395L990,385L1050,340M980,330C980.8,325 978.3,308.3 985,300C991.7,291.7 1014.2,283.3 1020,280L1170,200M1090,280C1091.7,291.7 1101.7,330 1100,350C1098.3,370 1091.7,383.3 1080,400C1068.3,416.7 1051.7,438.3 1030,450C1008.3,461.7 963.3,466.7 950,470"/>
<path class="n" d="M905,270C910.8,270.8 929.2,280 940,275C950.8,270 965,245.8 970,240M1045,280C1044.2,286.7 1037.5,311.7 1040,320C1042.5,328.3 1056.7,328.3 1060,330"/>

<path class="p" d="M1240,195C1248.3,204.2 1278.3,227.5 1290,250C1301.7,272.5 1300,309.2 1310,330C1320,350.8 1331.7,367 1350,375C1368.3,383 1402.5,383.8 1420,378C1437.5,372.2 1449.2,346.3 1455,340M1380,130C1390,141.7 1423.3,173.3 1440,200C1456.7,226.7 1470,258.3 1480,290C1490,321.7 1496.7,373.3 1500,390"/>
<path class="n" d="M1290,240C1298.3,250 1327.5,280 1340,300C1352.5,320 1360.8,350 1365,360M1215,225L1215,255M1280,340L1280,380"/>
<path class="p" d="M1515,375C1515.8,382.5 1524.2,405.5 1520,420C1515.8,434.5 1495,455 1490,462L1350,490L1315,540L1385,590L1250,680L1185,648L1075,650"/>
<ellipse class="n" cx="1395" cy="520" rx="48" ry="26"/><ellipse class="n" cx="1395" cy="515" rx="25" ry="12"/>
<ellipse class="n" cx="1130" cy="668" rx="50" ry="27"/><ellipse class="n" cx="1130" cy="662" rx="26" ry="12"/>
<path class="n" d="M1230,760C1251.7,750 1320,721.3 1360,700C1400,678.7 1451.7,643.3 1470,632"/>

<path class="p" d="M690,775L690,800L900,830M690,775L920,790L945,950M900,790L905,830M820,830C821.7,838.3 821.7,867.5 830,880C838.3,892.5 857.5,901.7 870,905C882.5,908.3 899.2,900.8 905,900"/>
<path class="n" d="M710,805C712.5,809.2 720,829.2 725,830C730,830.8 737.5,813.3 740,810M845,825C847.5,829.2 855,849.2 860,850C865,850.8 872.5,833.3 875,830"/>
<path class="p" d="M965,960C967.5,950 972.5,912.5 980,900C987.5,887.5 998.3,881.7 1010,885C1021.7,888.3 1043.3,914.2 1050,920L1120,845M1050,920L1055,950"/>

<path class="pw" d="M1120,1055C1123.3,1039.2 1120,989.2 1140,960C1160,930.8 1223.3,893.3 1240,880L1640,630C1653.3,626.3 1699.7,598 1720,608C1740.3,618 1758.7,656.3 1762,690C1765.3,723.7 1752,776.3 1740,810C1728,843.7 1698.3,878.3 1690,892L1228,1128C1216.7,1129.2 1178,1147.2 1160,1135C1142,1122.8 1126.7,1068.3 1120,1055Z"/>
<path class="n" d="M1115,1020C1120.8,1005 1127.5,956.7 1150,930C1172.5,903.3 1233.3,871.7 1250,860L1650,615"/>
<g transform="rotate(27 1238 995)"><ellipse class="p" cx="1238" cy="995" rx="80" ry="132"/><ellipse class="n" cx="1250" cy="995" rx="58" ry="112"/><path class="n" d="M1290,900C1293.3,915.8 1310,963.3 1310,995C1310,1026.7 1293.3,1074.2 1290,1090"/></g>
<g transform="rotate(27 1445 875)"><ellipse class="p" cx="1445" cy="875" rx="80" ry="130"/><ellipse class="n" cx="1457" cy="875" rx="58" ry="110"/><path class="n" d="M1497,780C1500.3,795.8 1517,843.3 1517,875C1517,906.7 1500.3,954.2 1497,970"/></g>
<g transform="rotate(27 1652 755)"><ellipse class="p" cx="1652" cy="755" rx="80" ry="128"/><ellipse class="n" cx="1664" cy="755" rx="58" ry="108"/><path class="n" d="M1704,660C1707.3,675.8 1724,723.3 1724,755C1724,786.7 1707.3,834.2 1704,850"/></g>
<path class="n" d="M1325,840C1328.3,838.3 1343.3,826.7 1345,830C1346.7,833.3 1336.7,855 1335,860M1530,720C1533.3,718.7 1548.3,708.7 1550,712C1551.7,715.3 1541.7,735.3 1540,740M1320,1045C1322.5,1040.8 1330,1022.5 1335,1020C1340,1017.5 1347.5,1028.3 1350,1030M1525,930C1527.5,925.8 1535,907.5 1540,905C1545,902.5 1552.5,913.3 1555,915"/>
<path class="l" d="M1572,440H1865V298"/>
</g>
<g transform="translate(760,540) scale(0.148084)">
<path class="pw" fill-rule="evenodd" d="M900,85C1000,85 1200,125 1300,160C1400,200 1540,320 1580,400C1610,460 1610,550 1590,600C1570,660 1480,760 1400,800C1320,845 1100,895 1000,900C900,905 720,870 620,840C520,810 360,700 300,650C250,610 195,520 192,470C190,420 230,340 270,310C310,280 500,165 600,125C700,95 800,85 900,85Z
M300,480C300,420 330,370 360,340C400,300 480,245 560,210C640,180 780,150 850,150L890,155L912,178L897,215L918,242L1025,250L1050,225L1060,180L1080,170C1160,180 1260,220 1330,260C1400,300 1470,380 1490,420C1510,460 1512,530 1500,570L1475,585L1370,590L1335,620L1330,640L1385,665L1400,690L1340,730C1300,760 1250,790 1200,800C1150,815 1000,840 900,840C800,840 650,810 545,775C460,740 370,660 325,600L345,590L440,575L470,560L465,515L440,490L300,492Z"/>
<path class="n" d="M930,210L965,195L1000,210L965,225Z"/>
<path class="n" d="M375,538L408,522L442,538L408,555Z"/>
<path class="n" d="M1362,628L1395,612L1430,628L1395,645Z"/>
<path class="l" d="M880,0V85"/>
</g>
<use href="#fitL" transform="translate(611.1,851.6)"/>
<use href="#fitL" transform="translate(746.5,646.5) rotate(210) scale(0.78,1.15) rotate(-30)"/>
<use href="#fitL" transform="translate(817.5,968) rotate(210) scale(0.72,0.9) rotate(-210)"/>
<use href="#fitL" transform="translate(1130.7,579.4) rotate(210) scale(1.38,1.0) rotate(-210)"/>
<use href="#fitL" transform="translate(1316.5,690.5) rotate(210) scale(0.68,0.85) rotate(-210)"/>
<g transform="translate(500,700) scale(0.261324)">
<path class="tb" stroke-width="14.5" d="M930,-220C920.3,-222.5 889.7,-232 872,-235C854.3,-238 839.7,-239.2 824,-238C808.3,-236.8 793.8,-233.7 778,-228C762.2,-222.3 737.2,-208 729,-204L652,-148C648.3,-145.3 637.2,-138.3 630,-132C622.8,-125.7 613.7,-118 609,-110C604.3,-102 603.2,-88.3 602,-84L603,235C604.5,242.2 605,265.8 612,278C619,290.2 639.5,303 645,308L830,410C858.3,427.5 958.3,492 1000,515C1041.7,538 1051.7,542.2 1080,548C1108.3,553.8 1155,549.7 1170,550L1450,508C1491.7,502 1641.7,476.7 1700,472C1758.3,467.3 1768.3,472 1800,480C1831.7,488 1875,513.3 1890,520"/><path class="tw" stroke-width="10.9" d="M930,-220C920.3,-222.5 889.7,-232 872,-235C854.3,-238 839.7,-239.2 824,-238C808.3,-236.8 793.8,-233.7 778,-228C762.2,-222.3 737.2,-208 729,-204L652,-148C648.3,-145.3 637.2,-138.3 630,-132C622.8,-125.7 613.7,-118 609,-110C604.3,-102 603.2,-88.3 602,-84L603,235C604.5,242.2 605,265.8 612,278C619,290.2 639.5,303 645,308L830,410C858.3,427.5 958.3,492 1000,515C1041.7,538 1051.7,542.2 1080,548C1108.3,553.8 1155,549.7 1170,550L1450,508C1491.7,502 1641.7,476.7 1700,472C1758.3,467.3 1768.3,472 1800,480C1831.7,488 1875,513.3 1890,520"/>

<path class="tb" stroke-width="12" d="M445,591C464.2,602 526.5,637.5 560,657C593.5,676.5 622.7,697.5 646,708C669.3,718.5 676,717.3 700,720C724,722.7 775,723.3 790,724"/><path class="tw" stroke-width="8.4" d="M445,591C464.2,602 526.5,637.5 560,657C593.5,676.5 622.7,697.5 646,708C669.3,718.5 676,717.3 700,720C724,722.7 775,723.3 790,724"/>

<path class="tb" stroke-width="11.5" d="M990,702C1041.7,698.3 1201.7,689 1300,680C1398.3,671 1516.7,651.7 1580,648C1643.3,644.3 1651.7,650.2 1680,658C1708.3,665.8 1728.3,681.3 1750,695C1771.7,708.7 1800,732.5 1810,740"/><path class="tw" stroke-width="7.9" d="M990,702C1041.7,698.3 1201.7,689 1300,680C1398.3,671 1516.7,651.7 1580,648C1643.3,644.3 1651.7,650.2 1680,658C1708.3,665.8 1728.3,681.3 1750,695C1771.7,708.7 1800,732.5 1810,740"/>

<path class="tb" stroke-width="11.5" d="M1215,1030C1220.8,1033.7 1234.2,1042.8 1250,1052C1265.8,1061.2 1285,1078.7 1310,1085C1335,1091.3 1374.2,1093.3 1400,1090C1425.8,1086.7 1451.3,1078.3 1465,1065C1478.7,1051.7 1486.2,1029.2 1482,1010C1477.8,990.8 1447,960 1440,950L1190,800C1184.2,794.2 1158.7,779.2 1155,765C1151.3,750.8 1155.5,728.8 1168,715C1180.5,701.2 1203,690.3 1230,682C1257,673.7 1298.3,665.3 1330,665C1361.7,664.7 1396.7,669.2 1420,680C1443.3,690.8 1455,710 1470,730C1485,750 1497.5,779.2 1510,800C1522.5,820.8 1530.8,840.8 1545,855C1559.2,869.2 1586.7,880 1595,885"/><path class="tw" stroke-width="7.9" d="M1215,1030C1220.8,1033.7 1234.2,1042.8 1250,1052C1265.8,1061.2 1285,1078.7 1310,1085C1335,1091.3 1374.2,1093.3 1400,1090C1425.8,1086.7 1451.3,1078.3 1465,1065C1478.7,1051.7 1486.2,1029.2 1482,1010C1477.8,990.8 1447,960 1440,950L1190,800C1184.2,794.2 1158.7,779.2 1155,765C1151.3,750.8 1155.5,728.8 1168,715C1180.5,701.2 1203,690.3 1230,682C1257,673.7 1298.3,665.3 1330,665C1361.7,664.7 1396.7,669.2 1420,680C1443.3,690.8 1455,710 1470,730C1485,750 1497.5,779.2 1510,800C1522.5,820.8 1530.8,840.8 1545,855C1559.2,869.2 1586.7,880 1595,885"/>

<path class="l" d="M305,172V255H140"/>
<path class="l" d="M918,272H855V390"/>
<path class="l" d="M706,915V828H800"/>
<path class="l" d="M2070,617H2175V668"/>
<path class="l" d="M1965,845V940H2125"/>
<path class="l" d="M1728,985V1075H1865"/>
</g>
<g transform="translate(1000,440) scale(0.174216)">
<path class="tb" stroke-width="13" d="M790,812C808.3,821.3 871.7,850.8 900,868C928.3,885.2 945.8,896.3 960,915C974.2,933.7 985,955.5 985,980C985,1004.5 964.2,1048.3 960,1062L400,1938C393,1949.7 363.8,1986.3 358,2008C352.2,2029.7 354.7,2048.8 365,2068C375.3,2087.2 394.2,2104.3 420,2123C445.8,2141.7 503.3,2170.5 520,2180"/><path class="tw" stroke-width="9.4" d="M790,812C808.3,821.3 871.7,850.8 900,868C928.3,885.2 945.8,896.3 960,915C974.2,933.7 985,955.5 985,980C985,1004.5 964.2,1048.3 960,1062L400,1938C393,1949.7 363.8,1986.3 358,2008C352.2,2029.7 354.7,2048.8 365,2068C375.3,2087.2 394.2,2104.3 420,2123C445.8,2141.7 503.3,2170.5 520,2180"/>
<path class="l" d="M1393,185H1220V295"/>
<path class="l" d="M1547,1042H1805V925"/>
<path class="l" d="M300,213H560V92"/>
<path class="l" d="M0,1523H210V1403"/>
</g>
<g transform="translate(1000,640) scale(0.174216)">
<path class="tb" stroke-width="12.5" d="M1835,292C1843.3,297 1874.2,309 1885,322C1895.8,335 1900.8,352 1900,370C1899.2,388 1893.3,412.5 1880,430C1866.7,447.5 1846.7,464.2 1820,475C1793.3,485.8 1753.3,494.5 1720,495C1686.7,495.5 1636.7,480.8 1620,478L1170,222C1155,219.2 1115,206.2 1080,205C1045,203.8 998.3,204.2 960,215C921.7,225.8 876.7,249.2 850,270C823.3,290.8 808.3,328.3 800,340L690,600C687.5,610 673.3,640 675,660C676.7,680 685.8,701.7 700,720C714.2,738.3 735,754.2 760,770C785,785.8 835,807.5 850,815"/><path class="tw" stroke-width="8.9" d="M1835,292C1843.3,297 1874.2,309 1885,322C1895.8,335 1900.8,352 1900,370C1899.2,388 1893.3,412.5 1880,430C1866.7,447.5 1846.7,464.2 1820,475C1793.3,485.8 1753.3,494.5 1720,495C1686.7,495.5 1636.7,480.8 1620,478L1170,222C1155,219.2 1115,206.2 1080,205C1045,203.8 998.3,204.2 960,215C921.7,225.8 876.7,249.2 850,270C823.3,290.8 808.3,328.3 800,340L690,600C687.5,610 673.3,640 675,660C676.7,680 685.8,701.7 700,720C714.2,738.3 735,754.2 760,770C785,785.8 835,807.5 850,815"/>
<path class="l" d="M778,1210V1352H980"/>
<path class="l" d="M1128,1010V1143H1330"/>
</g>
<use href="#fit" x="0" y="0" transform="translate(1001,840.5)"/>
<use href="#fit" transform="translate(978,897)"/>
<use href="#fit" transform="translate(917.5,933)"/>
<use href="#fit" transform="translate(1101,825.5)"/>
<use href="#fit" transform="translate(1156,785.5)"/>
<g transform="translate(680,790) scale(0.104657)">
<path class="pw" fill-rule="evenodd" d="M330,150C340,130 355,118 370,115L465,108C480,112 492,122 500,135L530,195C540,215 570,235 600,240L640,242L740,235C760,240 772,250 775,265C776,280 770,295 765,300L745,325C765,350 780,380 778,410C775,440 740,485 700,510C660,535 560,558 520,560L400,552L260,548C240,542 228,532 225,520L240,495C228,470 218,410 218,380C220,360 230,340 240,330C220,318 204,300 200,265C205,250 220,238 235,235L330,228L350,210Z
M265,385C270,365 275,350 290,335C310,315 410,272 470,262L560,268L730,370C740,385 742,400 738,420C730,445 680,485 620,510C580,525 500,532 460,525L275,420C268,410 264,395 265,385Z"/>
<ellipse class="p" cx="420" cy="160" rx="35" ry="16"/>
<ellipse class="p" cx="290" cy="275" rx="36" ry="18" transform="rotate(-12 290 275)"/>
<ellipse class="p" cx="695" cy="280" rx="30" ry="14"/>
<ellipse class="p" cx="300" cy="510" rx="28" ry="13"/>
<path class="l" d="M420,0V105"/>


<path class="pw" d="M140,850L250,790L340,700L365,668L400,720L460,660L500,665L560,740L400,900L215,990L170,1020L140,990Z"/>
<path class="p" d="M140,850C145,854.2 165,846.7 170,875C175,903.3 170,995.8 170,1020M170,875L250,830M250,790C258.3,788.3 286.7,788.3 300,780C313.3,771.7 325,746.7 330,740M340,700L350,740M480,660C478.3,670 463.3,707.5 470,720C476.7,732.5 511.7,732.5 520,735M180,990L195,965"/>

<path class="pw" d="M290,1100L300,1200L330,1255L330,1350L370,1385L420,1375L450,1410L530,1385L548,1355L570,1460L720,1560L890,1450L890,1290L830,1235L780,1000L500,950Z"/>
<path class="p" d="M470,1130L470,1320M520,1140L520,1340M590,1130L640,1300M330,1255C353.3,1265.8 436.7,1305 470,1320C503.3,1335 517,1339.2 530,1345C543,1350.8 545,1353.3 548,1355M660,1370C670,1375 710,1368.3 720,1400C730,1431.7 720,1533.3 720,1560M720,1400L890,1290M720,1090C716.7,1105 713.3,1155 700,1180C686.7,1205 650,1230 640,1240"/>
<path class="n" d="M760,1060L800,1230M650,1290L660,1370"/>
<path class="pk" d="M360,1370L420,1365L410,1390L375,1392Z"/>
<ellipse class="p" cx="790" cy="1415" rx="52" ry="88" transform="rotate(14 790 1415)"/>
<ellipse class="n" cx="785" cy="1420" rx="36" ry="68" transform="rotate(14 785 1420)"/>

<path class="pw" d="M640,800L660,785L740,780L775,810L782,880L700,880Z"/>
<ellipse class="n" cx="715" cy="825" rx="25" ry="13"/>

<path class="pw" d="M230,960C233.3,946.7 233.3,907.5 250,880C266.7,852.5 298.3,816.7 330,795C361.7,773.3 408.3,759.2 440,750C471.7,740.8 506.7,741.7 520,740L640,800C655,808.3 708.3,830 730,850C751.7,870 764.2,896.7 770,920C775.8,943.3 773.3,968.3 765,990C756.7,1011.7 744.2,1032.5 720,1050C695.8,1067.5 656.7,1085 620,1095C583.3,1105 533.3,1109.2 500,1110C466.7,1110.8 433.3,1101.7 420,1100L250,1010L230,960Z"/>
<path class="p" d="M225,990L240,1060L420,1140C433.3,1141.7 466.7,1151.7 500,1150C533.3,1148.3 583.3,1140.8 620,1130C656.7,1119.2 694.2,1105 720,1085C745.8,1065 765.8,1022.5 775,1010"/>
<path class="n" d="M235,980L255,1040L420,1120C433.3,1121.3 466.7,1129.7 500,1128C533.3,1126.3 584.2,1120.5 620,1110C655.8,1099.5 690.8,1083.3 715,1065C739.2,1046.7 756.7,1010.8 765,1000"/>

<path class="pw" d="M235,1060L300,1018L362,1052L335,1090L262,1096Z"/>
<ellipse class="p" cx="305" cy="1055" rx="28" ry="15"/>

<path class="pw" d="M262,945C265.8,932.5 272,892.8 285,870C298,847.2 315.8,825.5 340,808C364.2,790.5 400,774.3 430,765C460,755.7 505,754.2 520,752L690,845C697.5,854.2 726.7,882.5 735,900C743.3,917.5 745.8,931.7 740,950C734.2,968.3 720,991.7 700,1010C680,1028.3 651.7,1048 620,1060C588.3,1072 540,1079.5 510,1082C480,1084.5 451.7,1076.2 440,1075L270,985L262,945Z"/>
<path class="p" d="M300,850L300,885L460,972C476.7,971.3 530,975.8 560,968C590,960.2 616.7,942.2 640,925C663.3,907.8 690,875 700,865"/>
<path class="n" d="M355,790L355,905M400,775L400,935M425,770L430,950M520,760L520,965M470,975L470,1070"/>
<path class="l" d="M40,1420V1210H290"/>
</g>
<g transform="translate(200,600) scale(0.166297)">
<path class="pw" d="M667,585L695,555L725,585L725,695L667,695Z"/>
<path class="p" d="M678,590L678,690M670,590C674.5,591.3 688.3,598.3 697,598C705.7,597.7 717.8,589.7 722,588"/>
<path class="pw" d="M658,690L735,690L742,715L735,740L700,752L660,740L650,715Z"/>
<path class="p" d="M652,715C659.5,717.2 682.3,728 697,728C711.7,728 732.8,717.2 740,715"/>
<path class="pw" d="M665,748L725,748L725,825L712,840L680,840L665,825Z"/>
<path class="p" d="M667,762C672,763.3 687.7,770 697,770C706.3,770 718.7,763.3 723,762"/>
<path class="p" d="M682,840L682,1295M708,840L708,1295"/>
<path class="w" d="M660,1020H730V1050H660Z"/>
<path class="n" d="M665,1022C668.3,1020.8 678.3,1013.3 685,1015C691.7,1016.7 698.3,1029.8 705,1032C711.7,1034.2 721.7,1028.7 725,1028M665,1048C668.3,1046.7 678.3,1038.3 685,1040C691.7,1041.7 698.3,1056 705,1058C711.7,1060 721.7,1053 725,1052"/>
<path class="pw" d="M680,1290L675,1315L660,1345L660,1400L705,1432L730,1415L730,1350L715,1320L715,1292L700,1305Z"/>

<path class="pw" d="M858,455L870,430L882,455L888,545L852,545Z"/>
<path class="pw" d="M842,540L900,540L905,585L840,585Z"/>
<path class="pw" d="M828,580L912,580L905,608L870,618L835,608Z"/>
<path class="pw" d="M840,610L905,610L905,715L840,715Z"/>
<path class="p" d="M852,615L852,710"/>
<path class="pw" d="M850,715L890,715L890,752L850,752Z"/>
<path class="pk" d="M848,752H864V1350H848Z"/>
<path class="p" d="M882,752L882,1350M870,752L870,1000"/>
<path class="w" d="M825,1012H915V1048H825Z"/>
<path class="n" d="M830,1015C834.2,1013.8 846.7,1005.8 855,1008C863.3,1010.2 871.7,1025.7 880,1028C888.3,1030.3 900.8,1023 905,1022M830,1045C834.2,1043.5 846.7,1034.2 855,1036C863.3,1037.8 871.7,1053.7 880,1056C888.3,1058.3 900.8,1051 905,1050"/>
<path class="p" d="M872,1290L872,1350M892,1290L892,1350"/>
<path class="pw" d="M808,1385C809.2,1380.8 809.7,1366.7 815,1360C820.3,1353.3 835.8,1347.5 840,1345L880,1345C883.3,1347.5 895.8,1353.3 900,1360C904.2,1366.7 904.2,1380.8 905,1385L905,1490C902.5,1495 899.2,1512.5 890,1520C880.8,1527.5 861.7,1535.8 850,1535C838.3,1534.2 827,1522.5 820,1515C813,1507.5 810,1494.2 808,1490Z"/>
<path class="p" d="M825,1390C830,1391.7 845,1400 855,1400C865,1400 880,1391.7 885,1390M812,1495C819.2,1498.3 840,1515.5 855,1515C870,1514.5 894.2,1495.8 902,1492"/>
<path class="l" d="M597,296H870V430"/>
<path class="l" d="M585,1555H695V1430"/>
</g>
<use href="#g272" transform="translate(430,620)"/>
<use href="#c262" transform="translate(430,620)"/>
<g transform="translate(430,620) scale(0.135468)">
<path class="l" d="M790,408H1133V252"/>
<path class="l" d="M785,1080H1105V922"/>
</g>
<use href="#g272" transform="translate(1165.3,464.8)"/>
<use href="#c262" transform="translate(1165.3,465)"/>
<g transform="translate(1360,420) scale(0.243902)">
<path class="pw" d="M600,512L2015,1296L228,2335L275,2433L2085,1368C2115,1345 2125,1315 2122,1300C2120,1270 2090,1220 2050,1195L720,455Z"/>
<ellipse class="pw" cx="243" cy="2384" rx="36" ry="55" transform="rotate(-15 243 2384)"/>
</g>
<g transform="translate(1375,440) scale(0.086207)">
<path class="pw" d="M1240,700C1230,706.7 1200,718.3 1180,740C1160,761.7 1131.7,793.3 1120,830C1108.3,866.7 1105,930 1110,960C1115,990 1135,1000 1150,1010C1165,1020 1191.7,1018.3 1200,1020L1400,1120L1520,840L1360,760C1353.3,750.8 1340,715 1320,705C1300,695 1253.3,700.8 1240,700Z"/>
<path class="n" d="M1290,735C1280,739.2 1250,742.5 1230,760C1210,777.5 1183.3,810 1170,840C1156.7,870 1148.3,914.2 1150,940C1151.7,965.8 1175,985.8 1180,995"/>

<path class="pw" d="M1365,1030L1400,960L1440,900L1520,830L1620,820L1700,840L1860,930L1885,980L1885,1060L1780,1000L1740,1000C1730,1008.3 1700,1028.3 1680,1050C1660,1071.7 1630,1098.3 1620,1130C1610,1161.7 1613.3,1213.3 1620,1240C1626.7,1266.7 1640,1276.7 1660,1290C1680,1303.3 1726.7,1315 1740,1320L1720,1335L1640,1345L1560,1330L1400,1240L1365,1210Z"/>
<path class="n" d="M1400,1015L1560,1105L1565,1330M1560,1105L1700,935L1620,830M1700,935L1860,1010"/>

<path class="pw" d="M990,540C1006.7,543.3 1035.8,553.3 1050,570C1064.2,586.7 1076.7,611.7 1075,640C1073.3,668.3 1059.2,708.3 1040,740C1020.8,771.7 985,811.7 960,830C935,848.3 910.8,853.3 890,850C869.2,846.7 845,831.7 835,810C825,788.3 822.5,751.7 830,720C837.5,688.3 860,648.3 880,620C900,591.7 931.7,563.3 950,550C968.3,536.7 973.3,536.7 990,540Z"/>
<path class="p" d="M995,572C1007.2,575 1025,585.3 1033,600C1041,614.7 1046.8,635.8 1043,660C1039.2,684.2 1025.5,720.3 1010,745C994.5,769.7 968,795 950,808C932,821 915.8,826 902,823C888.2,820 873,806.8 867,790C861,773.2 859.7,746.7 866,722C872.3,697.3 889.3,665.3 905,642C920.7,618.7 945,593.7 960,582C975,570.3 982.8,569 995,572Z"/>

<path class="pw" d="M120,590L155,820C162.5,830 180.8,864.2 200,880C219.2,895.8 241.7,909.2 270,915C298.3,920.8 341.7,920.8 370,915C398.3,909.2 420,895.8 440,880C460,864.2 481.7,830 490,820L515,670L580,690L670,690L740,620L795,520L795,420L740,350L640,300L555,295C549.2,289.2 542.5,275 520,260C497.5,245 451.7,218.3 420,205C388.3,191.7 358.3,181.7 330,180C301.7,178.3 273.3,183.3 250,195C226.7,206.7 204.2,227.5 190,250C175.8,272.5 170,295 165,330C160,365 160.8,438.3 160,460L160,530L135,545L120,580Z"/>
<path class="p" d="M130,640C141.7,648.3 168.3,676.7 200,690C231.7,703.3 281.7,718.3 320,720C358.3,721.7 400,711.7 430,700C460,688.3 488.3,658.3 500,650M555,295C542.5,305.8 500.8,334.2 480,360C459.2,385.8 439.2,420 430,450C420.8,480 422.5,513.3 425,540C427.5,566.7 432.5,591.7 445,610C457.5,628.3 490.8,643.3 500,650M640,300C626.7,311.7 580.8,343.3 560,370C539.2,396.7 523,430 515,460C507,490 508.7,523.3 512,550C515.3,576.7 523.7,596.7 535,620C546.3,643.3 572.5,678.3 580,690"/>
<path class="n" d="M590,298C577.5,309.2 535.8,338.8 515,365C494.2,391.2 474.2,425 465,455C455.8,485 457.5,518.3 460,545C462.5,571.7 468.3,595 480,615C491.7,635 521.7,656.7 530,665M615,300C602.5,311.3 560.5,341.7 540,368C519.5,394.3 500.7,428 492,458C483.3,488 485.3,521.3 488,548C490.7,574.7 496.8,596.3 508,618C519.2,639.7 547.2,668 555,678M175,335L230,325L305,370L310,530L290,550L175,480M310,520L420,580M165,460L175,600"/>
<path class="p" d="M715,435C702.5,442.5 659.2,459.2 640,480C620.8,500.8 604.2,535 600,560C595.8,585 612.5,618.3 615,630"/>
</g>
<g transform="translate(1360,420) scale(0.243902)">
<path class="l" d="M667,103H178V145"/>
<path class="l" d="M667,133H415V270"/>
<path class="l" d="M667,158H617V370"/>
<path class="l" d="M903,1075H1040V1150"/>
</g>
<g transform="translate(1360,700) scale(0.243902)">
<path class="m" d="M475,468C477.5,475 486.7,496.3 490,510C493.3,523.7 491.7,543 495,550C498.3,557 505.8,557 510,552C514.2,547 520,533.7 520,520C520,506.3 511.7,478.3 510,470M790,292C792.5,299.2 802,322.3 805,335C808,347.7 805.2,361.8 808,368C810.8,374.2 818,376.7 822,372C826,367.3 832.3,353.7 832,340C831.7,326.3 822,298.3 820,290M1045,142C1047.5,149.2 1057.2,172 1060,185C1062.8,198 1059,213.5 1062,220C1065,226.5 1073.7,229 1078,224C1082.3,219 1088.5,204 1088,190C1087.5,176 1077.2,148.3 1075,140M1355,-45C1357.2,-37.5 1365.5,-14.5 1368,0C1370.5,14.5 1367.2,34.3 1370,42C1372.8,49.7 1380.8,51.3 1385,46C1389.2,40.7 1395,25.2 1395,10C1395,-5.2 1386.7,-35.8 1385,-45"/>
<path class="mw" d="M255,462L1440,-228L1548,-163L1548,-145L1500,-100L1480,-88L1420,-75L1410,-65L1245,32L1240,60L1180,88L1165,72L990,172L985,205L920,235L905,225L735,320L730,352L665,382L650,372L445,490L440,515L400,532L390,520L360,540L375,585L355,592L330,545L290,520L270,545L258,540L280,505L258,485Z"/>
<path class="m" d="M258,485L362,522L1548,-163M365,540L1410,-65M1500,-100C1503.3,-93.3 1514.2,-65 1520,-60C1525.8,-55 1535,-61.7 1535,-70C1535,-78.3 1522.5,-103.3 1520,-110"/>

<path class="l" d="M130,793V870H270"/>

<g id="n218"><ellipse class="mw" cx="1408" cy="1178" rx="36" ry="30"/><path class="pk" d="M1385,1172C1395,1166 1420,1166 1432,1172C1420,1186 1395,1186 1385,1172Z"/><path class="m" d="M1375,1185C1380.5,1187.5 1396.8,1200 1408,1200C1419.2,1200 1436.3,1187.5 1442,1185"/></g>
<use href="#n218" transform="translate(-252,145)"/>
<use href="#n218" transform="translate(-507,292)"/>
<use href="#n218" transform="translate(-762,438)"/>
<use href="#n218" transform="translate(-1017,585)"/>
<path class="l" d="M1408,1145V1080H1555"/>
<path class="l" d="M1768,775H1900V707"/>
</g>
<use href="#clip" transform="translate(1425.8,907.9)"/>
<use href="#clip" transform="translate(1488.1,871.7)"/>
<use href="#clip" transform="translate(1550.4,835.5)"/>
<use href="#clip" transform="translate(1612.7,799.3)"/>
<use href="#clip" transform="translate(1675,763.1)"/>
<defs><g id="swire"><path class="tb" stroke-width="7.5" d="M36.6,21.8L77.7,-3.4"/><path class="tw" stroke-width="5" d="M36.6,21.8L77.7,-3.4"/><path class="n" d="M36.6,21.8L77.7,-3.4"/></g></defs>
<use href="#swire" transform="translate(1505.1,1004.9)"/>
<use href="#swire" transform="translate(1567.8,968.3)"/>
<use href="#swire" transform="translate(1629.5,931.7)"/>
<use href="#swire" transform="translate(1691.9,895.8)"/>
<use href="#sw" transform="translate(1505.1,1004.9)"/>
<use href="#sw" transform="translate(1567.8,968.3)"/>
<use href="#sw" transform="translate(1629.5,931.7)"/>
<use href="#sw" transform="translate(1691.9,895.8)"/>
<use href="#sw" transform="translate(1754.4,859.8)"/>
<g transform="translate(1150,1000) scale(0.243902)">
<path class="tb" stroke-width="7.5" d="M1519,155L1190,335"/><path class="tw" stroke-width="5" d="M1519,155L1190,335"/><path class="n" d="M1519,155L1190,335"/>
<path class="mw" d="M1200,318C1191.7,320.3 1165.3,327.5 1150,332C1134.7,336.5 1115,342.8 1108,345L1098,360C1103,361.3 1120,363.3 1128,368C1136,372.7 1144,381 1146,388C1148,395 1141,406.3 1140,410C1142,407.7 1149.3,403.3 1152,396C1154.7,388.7 1146.7,375 1156,366C1165.3,357 1199.3,346 1208,342Z"/>

<path class="tb" stroke-width="4.6" d="M1105,350L265,842"/><path class="tw" stroke-width="2.2" d="M1105,350L265,842"/>
<path class="mw" d="M965,470L1085,398L1112,410L1112,455L990,522L965,510Z"/>
<path class="m" d="M965,470L990,482L1112,410M990,482L990,522"/>
<path class="mw" d="M180,870L235,840L275,838L282,850L250,885L210,897L180,880Z"/>
</g>
<use href="#valve" transform="translate(1755.8,1013.0)"/>
<use href="#valve" transform="translate(1692.9,1049.0)"/>
<use href="#valve" transform="translate(1630.0,1085.0)"/>
<use href="#valve" transform="translate(1567.1,1121.0)"/>
<use href="#valve" transform="translate(1504.2,1157.0)"/>
<g transform="translate(1370,1240) scale(0.217770)">
<path class="pw" d="M115,1050L210,995L250,1010L250,975L300,940L335,955L390,900L392,790L405,772L450,772L465,790L468,835L500,830L540,860L545,805L600,785L660,820L680,740L690,690L730,685L780,660L830,690L830,640L880,605L930,620L975,555L1030,580L1035,470L1045,455L1100,480L1160,450L1200,465L1250,400L1255,360L1310,360L1350,335L1395,350L1395,310L1430,280L1480,300L1530,235L1540,200L1540,125L1560,108L1600,112L1610,130L1612,190L1700,135L1840,215L1845,140L1880,120L1890,70L1915,55L1930,75L1935,150L2040,210L2045,150L2060,135L2075,160L2095,175L2100,410L510,1330L115,1100Z"/>
<path class="p" d="M520,1312L2095,398M1540,180L1640,240L1645,300M1540,125C1541.7,126.7 1540,133 1550,135C1560,137 1590,137.8 1600,137C1610,136.2 1608.3,131.2 1610,130M1612,190L1612,240M1840,215L1845,290M1935,150L1930,280M2040,210L2035,365M1880,120C1881.7,125 1887.5,157.5 1890,150C1892.5,142.5 1894.2,87.5 1895,75M2060,135L2062,230M1960,200L1930,215"/>
<path class="l" d="M1470,785V878H1565"/>
<path class="l" d="M697,85V150H770"/>
</g>
<g transform="translate(1380,1370) scale(0.113240)">
<defs><g id="bcell">
<path class="p" d="M900,870C916.7,864.7 958.3,845.5 1000,838C1041.7,830.5 1100,820 1150,825C1200,830 1258.3,848 1300,868C1341.7,888 1383.3,932.2 1400,945L1410,960L1400,1090"/>
<path class="p" d="M900,890L915,915L945,925L950,985L985,955L1005,1010L1005,1135M1005,1010L1050,1055L1110,1040L1140,1010L1220,1005L1240,1185"/>
<path class="n" d="M1010,1100L1080,1060M1290,690C1305,701.7 1356.7,733.3 1380,760C1403.3,786.7 1420,823.3 1430,850C1440,876.7 1438.3,908.3 1440,920M935,700L920,760M1085,735L1085,760M1115,735L1115,760M1080,735L1120,735"/>
<path class="p" d="M850,760L870,700L890,680L960,665L1000,690L1080,690L1140,655L1200,665L1215,625L1235,600L1330,640"/>
<path class="p" d="M1240,600L1240,460L1290,400L1340,420L1340,640M1300,460L1300,600M1360,720L1360,380L1390,370L1395,720"/>
<path class="pw" d="M950,400L1040,350L1210,440L1215,520L1140,560L955,470Z"/>
<path class="p" d="M1040,350L1040,380L1130,480L1140,560M1130,480L1210,440"/>
<path class="n" d="M975,400L1125,490"/>
<ellipse class="p" cx="1185" cy="520" rx="38" ry="16"/>
<path class="n" d="M1130,500C1128.3,510 1118.3,541.7 1120,560C1121.7,578.3 1136.7,601.7 1140,610"/>
</g></defs>
<use href="#bcell" transform="translate(0.0,-0.0)"/>
<use href="#bcell" transform="translate(553.6,-320.5)"/>
<use href="#bcell" transform="translate(1107.2,-641.0)"/>
<use href="#bcell" transform="translate(1660.8,-961.5)"/>
<use href="#bcell" transform="translate(2214.4,-1282.0)"/>
<path class="p" d="M665,500L665,370C669.2,364.2 677.5,342.5 690,335C702.5,327.5 723.3,325 740,325C756.7,325 777.5,327.5 790,335C802.5,342.5 810.8,364.2 815,370L815,520M665,500L860,600L870,720L850,760M820,470L870,440L900,465L950,470"/>
<path class="n" d="M720,385C723.3,386.2 732.5,392 740,392C747.5,392 760.8,386.2 765,385"/>
<path class="p" d="M520,725L520,1090M540,720L545,1095M880,900L885,1295M620,690L620,930M640,700L640,890M640,890L700,740L740,715L800,750L810,830L840,850M700,760L700,900M660,890L740,940L830,900M660,520L640,570L540,680"/>
<path class="n" d="M545,1095L880,1275M150,880L410,1020M750,780L740,930"/>
<path class="pk" d="M822,900L850,900L852,1060L830,1000Z"/>
<path class="p" d="M400,735L400,835"/>
</g>
<g transform="translate(1560,1040) scale(0.148084)">
<path class="l" d="M1395,510V618H1505"/>
<path class="l" d="M982,745V853H1090"/>
<path class="l" d="M570,985V1090H675"/>
<path class="l" d="M158,1230V1333H270"/>
</g>
<g transform="translate(80,1000) scale(0.304878)">
<path class="tb" stroke-width="3.4" d="M235,735L600,938C616.7,944.2 666.7,969.3 700,975C733.3,980.7 770,977.8 800,972C830,966.2 866.7,945.3 880,940L1800,410"/><path class="tw" stroke-width="1.4" d="M235,735L600,938C616.7,944.2 666.7,969.3 700,975C733.3,980.7 770,977.8 800,972C830,966.2 866.7,945.3 880,940L1800,410"/>
<path class="tb" stroke-width="3.4" d="M242,718L610,922C626.7,928 675,952.5 710,958C745,963.5 789.2,961.3 820,955C850.8,948.7 882.5,925.8 895,920L1800,400C1810,397.5 1840,385 1860,385C1880,385 1910,397.5 1920,400L2145,522"/><path class="tw" stroke-width="1.4" d="M242,718L610,922C626.7,928 675,952.5 710,958C745,963.5 789.2,961.3 820,955C850.8,948.7 882.5,925.8 895,920L1800,400C1810,397.5 1840,385 1860,385C1880,385 1910,397.5 1920,400L2145,522"/>
<path class="tb" stroke-width="3.4" d="M250,700L612,902C630,908 683.7,933.3 720,938C756.3,942.7 800,938 830,930C860,922 888.3,896.7 900,890L1880,330C1888.3,327.7 1910,316.8 1930,316C1950,315.2 1978.3,318 2000,325C2021.7,332 2050,352.5 2060,358L2155,412"/><path class="tw" stroke-width="1.4" d="M250,700L612,902C630,908 683.7,933.3 720,938C756.3,942.7 800,938 830,930C860,922 888.3,896.7 900,890L1880,330C1888.3,327.7 1910,316.8 1930,316C1950,315.2 1978.3,318 2000,325C2021.7,332 2050,352.5 2060,358L2155,412"/>
<path class="tb" stroke-width="3.4" d="M255,682L622,885C638.3,890 690.3,910.5 720,915C749.7,919.5 775,917 800,912C825,907 858.3,889.5 870,885L1900,295L2165,145"/><path class="tw" stroke-width="1.4" d="M255,682L622,885C638.3,890 690.3,910.5 720,915C749.7,919.5 775,917 800,912C825,907 858.3,889.5 870,885L1900,295L2165,145"/>
<path class="tb" stroke-width="3.4" d="M1575,705L1900,512C1910,507.5 1940,489.5 1960,485C1980,480.5 2010,485 2020,485L2145,522"/><path class="tw" stroke-width="1.4" d="M1575,705L1900,512C1910,507.5 1940,489.5 1960,485C1980,480.5 2010,485 2020,485L2145,522"/>

<path class="mw" d="M100,612L145,586L245,640L247,688L257,684L257,720L202,746L93,692L93,650L100,646Z"/>
<path class="m" d="M100,612L200,664L245,640M200,664L202,746M100,646L200,700M148,635L148,672M232,700L232,730M200,710L232,696L257,706"/>

<path class="nw" d="M2160,142L2205,95L2228,93L2243,115L2235,128L2175,158Z"/>
<path class="nw" d="M2150,400L2180,398L2228,425L2228,450L2200,462L2150,420Z"/>
<path class="nw" d="M2140,518L2175,515L2230,545L2228,568L2200,578L2155,552L2155,535Z"/>
<path class="n" d="M2180,535L2200,547M2190,528L2210,540M2175,545L2195,557"/>
<ellipse class="nw" cx="1530" cy="735" rx="38" ry="22" transform="rotate(-8 1530 735)"/>
<ellipse class="n" cx="1526" cy="737" rx="18" ry="10" transform="rotate(-8 1526 737)"/>
<path class="nw" d="M1560,718L1600,690L1608,700L1570,738Z"/>
<path class="l" d="M812,993V1063H860"/>
</g>
<g transform="translate(830,1120) scale(0.110855)">
<path class="mw" d="M725,975L845,885L925,932L995,880L1065,920L1185,790L1185,660L1250,625L1330,665L1335,700L1385,680L1385,545L1445,510L1525,550L1530,590L1585,565L1585,430L1650,390L1725,435L1725,560C1735.8,568.3 1772.5,586.7 1790,610C1807.5,633.3 1823.3,685 1830,700L1830,950L1610,1070L1610,1110L1500,1165L1470,1150L1110,1350L1105,1400L1000,1460L725,1320Z"/>
<path class="m" d="M725,975L965,1115L965,1440M965,1115L1070,1030L925,932M845,885L845,960L735,975M815,1025L925,945M895,1070L1000,990M845,960L1000,1050M920,940L920,1000M995,985L995,1050M1070,1030L1080,1110M1000,1180L1000,1440M1105,1100L1105,1400M1080,1030L1210,1000L1100,1085M1500,880L1500,1165M1610,830L1610,1110M1470,870L1470,1150"/>
<path class="m" d="M1185,660L1265,700L1330,665M1265,700L1265,780M1330,665L1330,790M1385,545L1460,585L1525,550M1460,585L1460,665M1525,550L1525,690M1585,430L1660,470L1725,435M1660,470L1660,550M1215,640L1300,685M1290,645L1225,680M1415,525L1495,570M1490,530L1420,565M1615,410L1695,455M1690,415L1620,450"/>
<path class="mw" d="M1150,875L1205,840L1280,880L1285,1000L1220,1010L1150,960Z"/>
<path class="m" d="M1150,875L1220,915L1280,880M1220,915L1220,1010M1175,858L1250,898M1245,860L1185,895"/>
<path class="mw" d="M1345,765L1410,725L1480,765L1480,880L1420,900L1345,860Z"/>
<path class="m" d="M1345,765L1420,800L1480,765M1420,800L1420,1000M1375,745L1450,785M1445,745L1385,780"/>
<path class="mw" d="M1540,640L1610,600L1690,645L1690,835L1620,790L1540,750Z"/>
<path class="m" d="M1540,640L1620,680L1690,645M1620,680L1620,830M1570,620L1655,665M1650,622L1580,660"/>
<path class="m" d="M1185,790C1195.8,787 1225.8,770.3 1250,772C1274.2,773.7 1306.7,782 1330,800C1353.3,818 1375.8,848.3 1390,880C1404.2,911.7 1410.8,971.7 1415,990M1335,702C1352.5,695.8 1407.5,665.3 1440,665C1472.5,664.7 1505,680.8 1530,700C1555,719.2 1577.5,755 1590,780C1602.5,805 1602.5,838.3 1605,850M1530,592C1548.3,584.2 1601.7,545.3 1640,545C1678.3,544.7 1730,567.5 1760,590C1790,612.5 1810,665 1820,680M1065,920C1074.2,911.7 1105.8,877.5 1120,870C1134.2,862.5 1145,874.2 1150,875"/>
<path class="p" d="M1000,1180L1000,1440M1085,1120L1100,1400M1500,890L1505,1160M1600,830L1605,1100"/>
<path class="n" d="M1030,1230C1035,1227.5 1052.5,1213.3 1060,1215C1067.5,1216.7 1072.5,1235.8 1075,1240M1030,1290C1033.3,1287.5 1042.5,1275 1050,1275C1057.5,1275 1074.2,1282.5 1075,1290C1075.8,1297.5 1062.5,1316.7 1055,1320C1047.5,1323.3 1034.2,1311.7 1030,1310M1030,1360L1060,1350M1535,950C1539.2,947.5 1552.5,934.2 1560,935C1567.5,935.8 1576.7,951.7 1580,955M1535,1000C1539.2,998.3 1551.7,989.2 1560,990C1568.3,990.8 1585,997.5 1585,1005C1585,1012.5 1567.5,1031.7 1560,1035C1552.5,1038.3 1543.3,1026.7 1540,1025M1545,810C1549.2,811.7 1562.5,810 1570,820C1577.5,830 1586.7,861.7 1590,870"/>
<path class="l" d="M510,805V1060H700"/>
</g>
<g transform="translate(2140,140) scale(0.104712)">
<rect class="pw" x="303" y="287" width="765" height="752" rx="6"/>
<g id="flames">
<path class="p" d="M465,560C420,650 395,780 395,900C395,960 410,1010 420,1035M465,560C510,650 530,780 530,900C530,960 515,1010 505,1035"/>
<path class="pk" d="M462,735C440,790 425,860 425,920C425,960 430,1000 435,1035L452,1035C448,1000 446,960 448,930C450,910 457,895 462,890C467,895 474,910 476,930C478,960 476,1000 472,1035L490,1035C495,1000 500,960 500,920C500,860 485,790 462,735Z"/>
<path class="p" d="M650,465C600,570 568,740 568,880C568,950 585,1000 600,1035M650,465C700,570 732,740 732,880C732,950 715,1000 700,1035"/>
<path class="pk" d="M648,675C622,740 605,830 605,900C605,950 612,1000 620,1035L638,1035C630,1000 626,950 628,920C630,890 640,870 648,860C656,870 666,890 668,920C670,950 666,1000 658,1035L678,1035C686,1000 695,950 695,900C695,830 675,740 648,675Z"/>
<path class="p" d="M865,330C805,460 762,660 762,840C762,930 785,1000 805,1035M865,330C925,460 962,660 962,840C962,930 940,1000 925,1035"/>
<path class="pk" d="M862,590C830,680 805,790 805,880C805,940 815,1000 828,1035L848,1035C838,1000 832,940 835,900C838,860 852,830 862,820C872,830 886,860 890,900C893,940 888,1000 878,1035L900,1035C912,1000 925,940 925,880C925,790 895,680 862,590Z"/>
</g>
</g>
<path class="l" d="M871.1,526.3H890.7V552.5"/>
<g id="labels">
<text x="549.3" y="365.9">0234</text>
<text x="549.3" y="436.7">0236</text>
<text x="745.3" y="388.2">0235</text>
<text x="745.3" y="484.1">0237</text>
<text x="791.1" y="537.2">0275</text>
<text x="552.2" y="643.5">0272</text>
<text x="549.6" y="733.8">0262</text>
<text x="1070.0" y="354.6">0273</text>
<text x="1066.2" y="444.6">0263</text>
<text x="1005.7" y="672.5">0265</text>
<text x="746.1" y="781.2">0271</text>
<text x="650.0" y="969.6">0261</text>
<text x="1043.3" y="905.3">0225</text>
<text x="1053.7" y="958.9">0222</text>
<text x="992.3" y="997.3">0221</text>
<text x="1177.8" y="885.5">0223</text>
<text x="1236.2" y="848.4">0224</text>
<text x="1253.6" y="484.3">0272</text>
<text x="1283.2" y="589.7">0262</text>
<text x="224.2" y="662.2">0232</text>
<text x="225.4" y="868.0">0231</text>
<text x="1533.5" y="461.7">0204</text>
<text x="1500.6" y="695.6">0208</text>
<text x="1355.9" y="884.4">0217</text>
<text x="1790.1" y="865.1">0201</text>
<text x="1747.4" y="972.7">0218</text>
<text x="1786.4" y="1142.1">0212</text>
<text x="1722.0" y="1176.7">0213</text>
<text x="1663.5" y="1212.9">0215</text>
<text x="1601.4" y="1248.0">0212</text>
<text x="1540.1" y="1283.0">0211</text>
<text x="1712.0" y="1442.9">0210</text>
<text x="352.8" y="1335.3">0248</text>
<text x="846.1" y="1192.6">0249</text>
<text x="2177.7" y="281.6">0296</text>
<text x="24.2" y="1618.6" style="font-size:33.5px">58300000204702 aet 000 a 2/2</text>
</g>
</svg>
</body></html>
